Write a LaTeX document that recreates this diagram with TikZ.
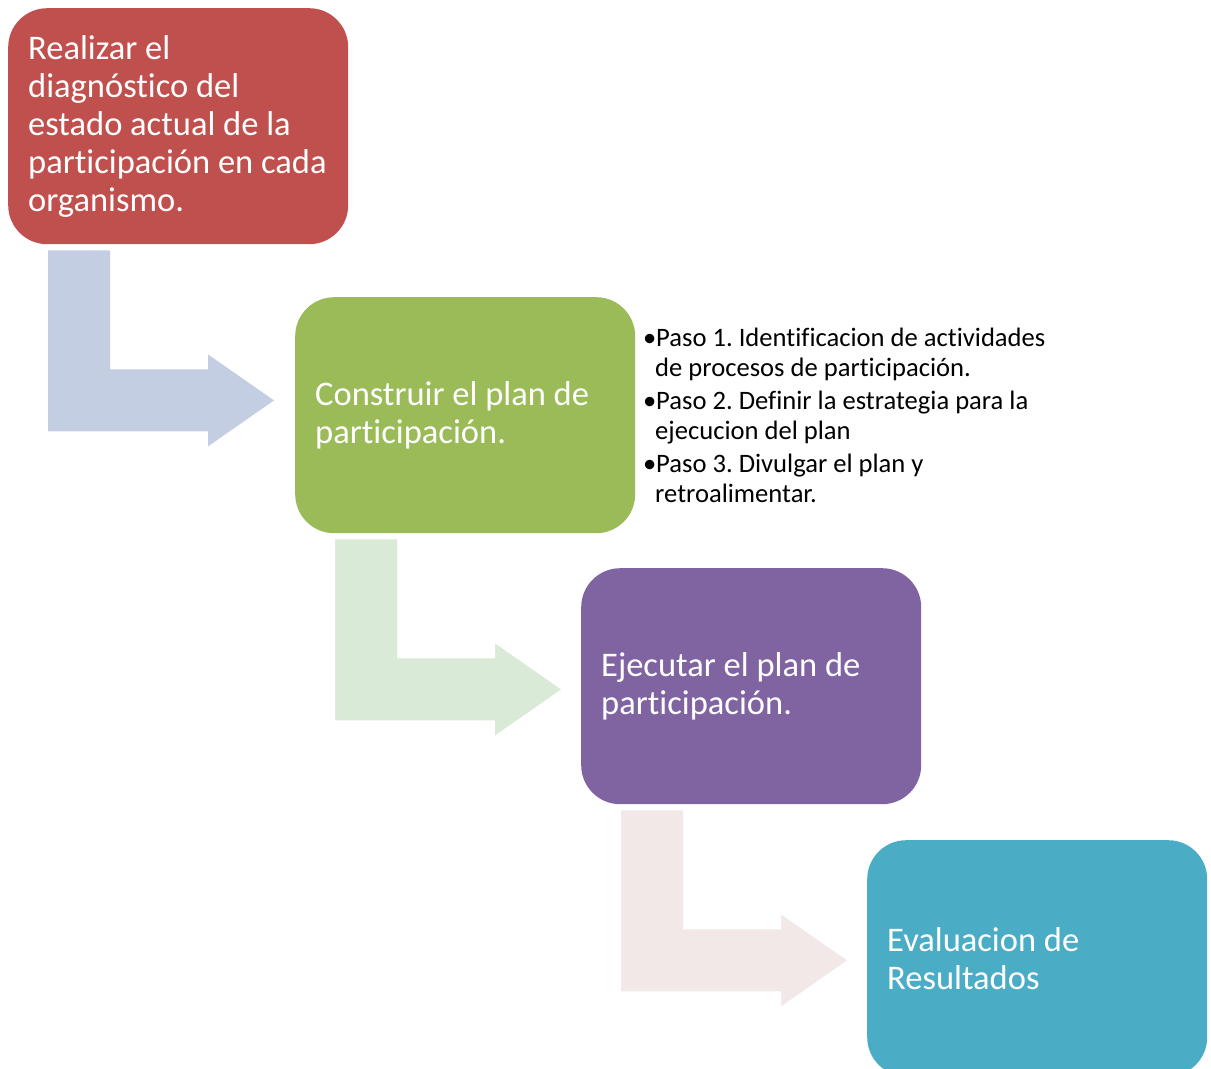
\documentclass[tikz,border=0pt]{standalone}
\usepackage{fontspec}
\setmainfont{Carlito}[Ligatures=CommonOff]
\usetikzlibrary{calc}
\definecolor{cred}{HTML}{C0504D}
\definecolor{cgreen}{HTML}{9BBB59}
\definecolor{cpurple}{HTML}{8064A2}
\definecolor{cblue}{HTML}{4BACC6}
\definecolor{arrowA}{HTML}{C3CEE2}
\definecolor{arrowB}{HTML}{D9EAD6}
\definecolor{arrowC}{HTML}{F2E8E7}
\newcommand\bentarrow[2]{\fill[#2] ($(#1.south west)+(40,6)$) -- ++(62,0) -- ++(0,119) -- ++(98,0) -- ++(0,-15) -- ++(66,46) -- ++(-66,46) -- ++(0,-15) -- ++(-160,0) -- cycle;}
\newcommand\bul{\makebox[13pt][l]{•}}
\newcommand\ind{\hspace*{12pt}}
\frenchspacing
\begin{document}
\begin{tikzpicture}[x=1pt,y=-1pt,
  stagebox/.style={rounded corners=39pt, minimum width=340pt, minimum height=236pt,
    text width=300pt, inner xsep=20pt, inner ysep=0pt, align=flush left, text=white,
    font=\fontsize{34.5}{38}\selectfont, anchor=north west},
  stepstext/.style={anchor=north west, inner sep=0pt, align=flush left, text=black,
    font=\fontsize{26.6}{29.5}\selectfont}]
\useasboundingbox (0,0) rectangle (1211,1069);
\clip (0,0) rectangle (1211,1069);
\node[stagebox, fill=cred] (b1) at (8,8) {Realizar el\\diagnóstico del\\estado actual de la\\\mbox{participación en cada}\\organismo.};
\node[stagebox, fill=cgreen] (b2) at (295,297) {Construir el plan de\\participación.};
\node[stagebox, fill=cpurple] (b3) at (581,568) {Ejecutar el plan de\\participación.};
\node[stagebox, fill=cblue] (b4) at (867,840) {Evaluacion de\\Resultados};
\bentarrow{b1}{arrowA}
\bentarrow{b2}{arrowB}
\bentarrow{b3}{arrowC}
\node[stepstext] (steps) at (643,328) {\bul Paso 1. Identificacion de actividades\\\ind de procesos de participación.\\[4pt]\bul Paso 2. Definir la estrategia para la\\\ind ejecucion del plan\\[4pt]\bul Paso 3. Divulgar el plan y\\\ind retroalimentar.};
\end{tikzpicture}
\end{document}
